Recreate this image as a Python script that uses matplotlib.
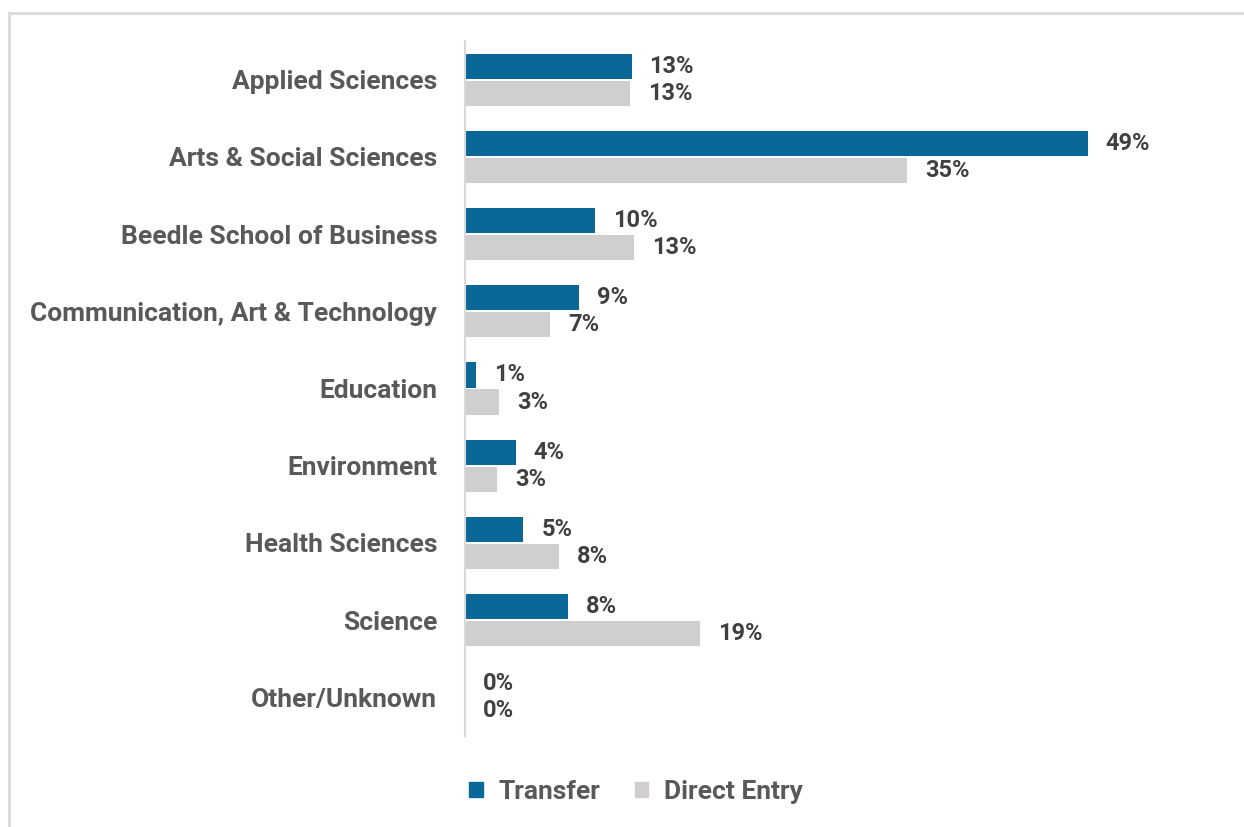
import matplotlib.pyplot as plt
from matplotlib.patches import Rectangle, Patch

categories = ["Applied Sciences", "Arts & Social Sciences", "Beedle School of Business",
              "Communication, Art & Technology", "Education", "Environment",
              "Health Sciences", "Science", "Other/Unknown"]
transfer = [13.1, 49.0, 10.2, 9.0, 0.9, 4.0, 4.6, 8.1, 0.0]
direct = [13.0, 34.8, 13.3, 6.7, 2.7, 2.5, 7.4, 18.5, 0.0]
transfer_labels = ["13%", "49%", "10%", "9%", "1%", "4%", "5%", "8%", "0%"]
direct_labels = ["13%", "35%", "13%", "7%", "3%", "3%", "8%", "19%", "0%"]

blue = "#0a6898"
grey = "#d0cecf"
font = ["Roboto", "DejaVu Sans"]

W, H = 1244, 827
fig = plt.figure(figsize=(W / 100, H / 100), dpi=100)
fig.patches.append(Rectangle((9 / W, -0.1), 1.2, 1 - 13 / H + 0.1, transform=fig.transFigure,
                             fill=False, edgecolor="#d9d9d9", linewidth=2))

ax = fig.add_axes([465 / W, 1 - 736 / H, 700 / W, 695 / H])
y = list(range(len(categories)))
h = 0.325
off = 0.175
yt = [v - off for v in y]
yd = [v + off for v in y]
ax.barh(yt, transfer, height=h, color=blue, label="Transfer")
ax.barh(yd, direct, height=h, color=grey, label="Direct Entry")

for yy, val, lab in zip(yt, transfer, transfer_labels):
    ax.annotate(lab, (val, yy), xytext=(13, 0), textcoords="offset points",
                va="center", ha="left", fontsize=17, fontweight="bold",
                color="#404040", family=font)
for yy, val, lab in zip(yd, direct, direct_labels):
    ax.annotate(lab, (val, yy), xytext=(13, 0), textcoords="offset points",
                va="center", ha="left", fontsize=17, fontweight="bold",
                color="#404040", family=font)

ax.set_xlim(0, 700 / 12.71)
ax.set_ylim(len(categories) - 0.5, -0.5)
ax.set_yticks(y)
ax.set_yticklabels(categories, fontsize=19, fontweight="bold", color="#595959", family=font)
ax.tick_params(axis="y", length=0, pad=20)
ax.set_xticks([])
for s in ["top", "right", "bottom"]:
    ax.spines[s].set_visible(False)
ax.spines["left"].set_color("#d9d9d9")
ax.spines["left"].set_linewidth(1.5)

handles = [Patch(color=blue, label="Transfer"), Patch(color=grey, label="Direct Entry")]
fig.legend(handles=handles, loc="center", bbox_to_anchor=(636 / W, 1 - 792 / H), ncol=2,
           frameon=False, handlelength=0.5, handleheight=0.5, handletextpad=0.6,
           columnspacing=1.3, prop={"family": font, "size": 19, "weight": "bold"},
           labelcolor="#595959")

fig.savefig("out.png", dpi=100)
